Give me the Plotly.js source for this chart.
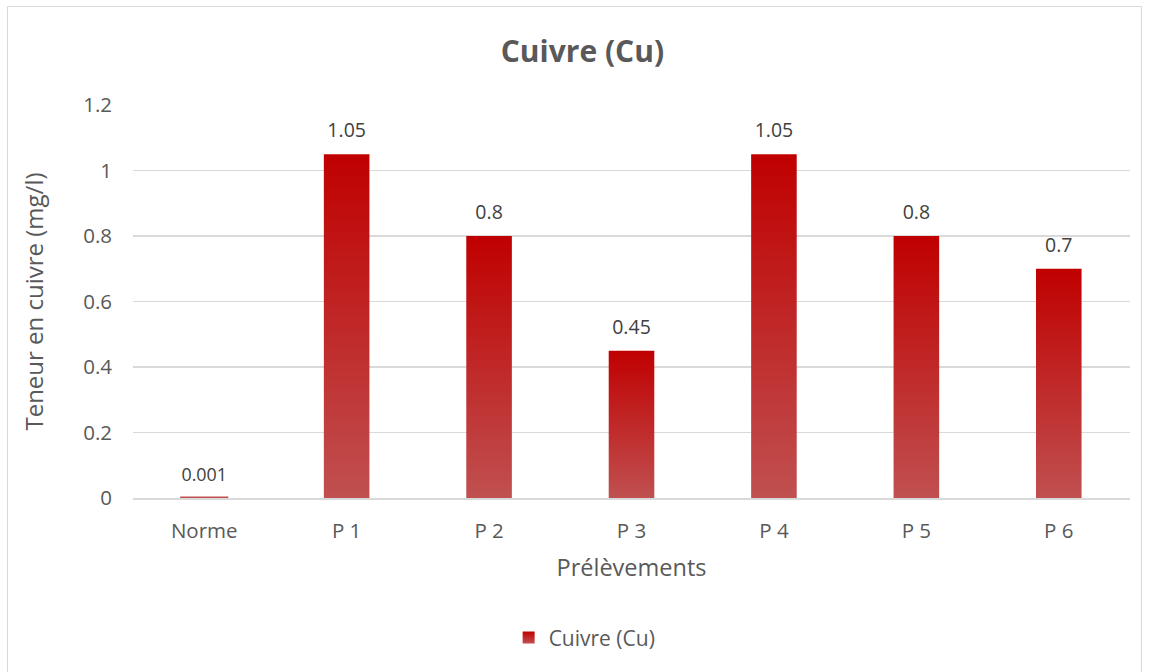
<!DOCTYPE html>
<html><head><meta charset="utf-8">
<script src="https://cdn.plot.ly/plotly-3.0.1.min.js"></script>
<style>
body{margin:0;background:#fff;overflow:hidden}
#wrap{position:absolute;left:7px;top:6px;width:1133px;height:680px;border:1.5px solid #d9d9d9;}
#chart{width:1133px;height:680px}
</style></head><body>
<div id="wrap"><div id="chart"></div></div>
<script>
const categories = ["Norme", "P 1", "P 2", "P 3", "P 4", "P 5", "P 6"];
const values = [0.001, 1.05, 0.8, 0.45, 1.05, 0.8, 0.7];
const labels = ["0.001", "1.05", "0.8", "0.45", "1.05", "0.8", "0.7"];
const seriesName = "Cuivre (Cu)";
const font = "Open Sans, Liberation Sans, sans-serif";
const grey = "#595959";

const trace = {
  type: "bar", x: categories, y: values, name: seriesName,
  text: labels, textposition: "outside", texttemplate: "%{text}",
  textfont: {family: font, size: 19.5, color: "#404040"},
  cliponaxis: false,
  marker: {color: "#C00000", line: {color: "#C0504D", width: 1}},
  hoverinfo: "x+y"
};
const layout = {
  width: 1133, height: 680,
  margin: {l: 125, r: 11, t: 98, b: 189},
  paper_bgcolor: "#fff", plot_bgcolor: "#fff",
  bargap: 0.68,
  showlegend: true,
  title: {text: "<b>Cuivre (Cu)</b>", font: {family: font, size: 30, color: grey}, x: 0.507, xref: "container", xanchor: "center", y: 0.934, yref: "container", yanchor: "middle"},
  xaxis: {
    title: {text: "Prélèvements", font: {family: font, size: 23.5, color: grey}, standoff: 16},
    tickfont: {family: font, size: 20.5, color: grey},
    showline: true, linecolor: "#d9d9d9", linewidth: 1.5, ticks: "", showgrid: false,
    ticklabelstandoff: 14
  },
  yaxis: {
    title: {text: "Teneur en cuivre (mg/l)", font: {family: font, size: 24, color: grey}, standoff: 32},
    range: [0, 1.2], dtick: 0.2, tickformat: "~g",
    tickfont: {family: font, size: 20.5, color: grey},
    showgrid: true, gridcolor: "#d9d9d9", gridwidth: 1.5, zeroline: false, ticks: "", ticklen: 0,
    ticklabelstandoff: 20
  },
  legend: {orientation: "h", x: 0.453, xanchor: "center", y: -0.356, yanchor: "middle", font: {family: font, size: 21, color: grey}, itemwidth: 30},
};
Plotly.newPlot("chart", [trace], layout, {displayModeBar: false, staticPlot: true}).then(function(gd){
  const svg = gd.querySelector("svg.main-svg");
  const ns = "http://www.w3.org/2000/svg";
  let defs = svg.querySelector("defs");
  const g = document.createElementNS(ns, "linearGradient");
  g.setAttribute("id", "barGrad");
  g.setAttribute("x1", "0"); g.setAttribute("y1", "0"); g.setAttribute("x2", "0"); g.setAttribute("y2", "1");
  [["0", "#C00000"], ["1", "#C05050"]].forEach(function(s){
    const st = document.createElementNS(ns, "stop");
    st.setAttribute("offset", s[0]); st.setAttribute("stop-color", s[1]);
    g.appendChild(st);
  });
  defs.appendChild(g);
  gd.querySelectorAll(".bars .point path").forEach(function(p){
    p.style.fill = "url(#barGrad)";
    p.style.stroke = "none";
  });
  gd.querySelectorAll(".legendpoints path").forEach(function(p){
    p.style.fill = "url(#barGrad)";
    p.style.stroke = "none";
  });
  gd.querySelectorAll(".bars .point text").forEach(function(t){
    const tr = t.getAttribute("transform") || "";
    t.setAttribute("transform", "translate(0,-8) " + tr);
  });
  const first = gd.querySelector(".bars .point path");
  if (first) { first.style.stroke = "#C0504D"; first.style.strokeWidth = "2.5px"; }
});
</script>
</body></html>
